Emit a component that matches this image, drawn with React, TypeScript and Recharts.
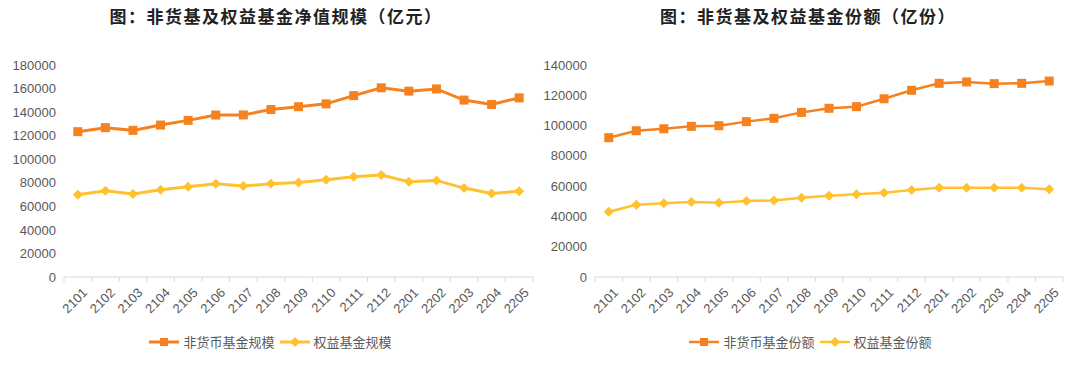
import React from "react";
import { Legend, Line, LineChart, XAxis, YAxis } from "recharts";

const months = [
  "2101", "2102", "2103", "2104", "2105", "2106", "2107", "2108", "2109",
  "2110", "2111", "2112", "2201", "2202", "2203", "2204", "2205",
];

// 净值规模（亿元）
const navNonMoney = [
  123400, 126800, 124500, 129000, 133000, 137500, 137600, 142200, 144600,
  147000, 154000, 160600, 157800, 159700, 150200, 146500, 152100,
];
const navEquity = [
  69900, 73300, 70400, 74100, 76600, 79200, 77200, 79200, 80300,
  82500, 85100, 86500, 80900, 82000, 75500, 71000, 72900,
];

// 份额（亿份）
const shareNonMoney = [
  92000, 96600, 97900, 99500, 99900, 102600, 104800, 108700, 111400,
  112500, 117700, 123300, 127900, 128800, 127700, 127900, 129400,
];
const shareEquity = [
  43100, 47700, 48700, 49500, 49100, 50200, 50600, 52400, 53700,
  54600, 55700, 57500, 59000, 59000, 59000, 59000, 57900,
];

const navTicks = [0, 20000, 40000, 60000, 80000, 100000, 120000, 140000, 160000, 180000];
const shareTicks = [0, 20000, 40000, 60000, 80000, 100000, 120000, 140000];

const ORANGE = "#F5821F";
const YELLOW = "#FFC12E";
const GRAY = "#595959";
const AXIS = "#D9D9D9";
const NUM_FONT = "'Liberation Sans', Arial, sans-serif";
const CJK_FONT = "'Noto Sans CJK SC', 'Noto Sans', sans-serif";

const navData = months.map((m, i) => ({ m, a: navNonMoney[i], b: navEquity[i] }));
const shareData = months.map((m, i) => ({ m, a: shareNonMoney[i], b: shareEquity[i] }));

const squareDot = (size: number) => (p: any) =>
  p.cx == null ? null : (
    <rect
      key={p.index}
      x={p.cx - size / 2}
      y={p.cy - size / 2}
      width={size}
      height={size}
      fill={ORANGE}
    />
  );

const diamondDot = (r: number) => (p: any) =>
  p.cx == null ? null : (
    <path
      key={p.index}
      d={`M${p.cx},${p.cy - r} L${p.cx + r},${p.cy} L${p.cx},${p.cy + r} L${p.cx - r},${p.cy} Z`}
      fill={YELLOW}
    />
  );

const makeTick = (half: number, count: number) => (props: any) => {
  const { x, y, payload, index } = props;
  const axisY = y - 8;
  return (
    <g>
      <line x1={x - half} x2={x - half} y1={axisY} y2={axisY + 5} stroke={AXIS} />
      {index === count - 1 && (
        <line x1={x + half} x2={x + half} y1={axisY} y2={axisY + 5} stroke={AXIS} />
      )}
      <text
        x={x + 4}
        y={y + 2}
        transform={`rotate(-45 ${x + 4} ${y + 2})`}
        textAnchor="end"
        dy="0.7em"
        fill={GRAY}
        fontSize={13}
        fontFamily={NUM_FONT}
      >
        {payload.value}
      </text>
    </g>
  );
};

const legendContent = (names: string[], strokeWidth: number) => () => (
  <div
    style={{
      display: "flex",
      justifyContent: "center",
      alignItems: "center",
      fontFamily: CJK_FONT,
      fontSize: 13,
      color: GRAY,
    }}
  >
    <span style={{ display: "flex", alignItems: "center", marginRight: 4 }}>
      <svg width={32} height={12}>
        <line x1={1} x2={31} y1={6} y2={6} stroke={ORANGE} strokeWidth={strokeWidth} />
        <rect x={12} y={2} width={8} height={8} fill={ORANGE} />
      </svg>
      <span style={{ marginLeft: 3 }}>{names[0]}</span>
    </span>
    <span style={{ display: "flex", alignItems: "center" }}>
      <svg width={32} height={12}>
        <line x1={1} x2={31} y1={6} y2={6} stroke={YELLOW} strokeWidth={strokeWidth} />
        <path d="M16,1 L21,6 L16,11 L11,6 Z" fill={YELLOW} />
      </svg>
      <span style={{ marginLeft: 3 }}>{names[1]}</span>
    </span>
  </div>
);

type PanelProps = {
  left: number;
  title: string;
  data: { m: string; a: number; b: number }[];
  ticks: number[];
  names: string[];
  yWidth: number;
  rightMargin: number;
  strokeWidth: number;
  titleShift: number;
};

function Panel({ left, title, data, ticks, names, yWidth, rightMargin, strokeWidth, titleShift }: PanelProps) {
  const plotWidth = 540 - yWidth - rightMargin;
  const half = plotWidth / data.length / 2;
  return (
    <div style={{ position: "absolute", left, top: 0, width: 540, height: 366 }}>
      <div
        style={{
          position: "absolute",
          top: 3,
          left: titleShift,
          width: 540,
          textAlign: "center",
          fontFamily: CJK_FONT,
          fontWeight: 700,
          fontSize: 17,
          letterSpacing: 1.5,
          color: "#222",
        }}
      >
        {title}
      </div>
      <LineChart
        width={540}
        height={366}
        data={data}
        margin={{ top: 65, right: rightMargin, bottom: 39, left: 0 }}
      >
        <XAxis
          dataKey="m"
          interval={0}
          tickLine={false}
          axisLine={{ stroke: AXIS }}
          tick={makeTick(half, data.length)}
          padding={{ left: half, right: half }}
          height={50}
        />
        <YAxis
          width={yWidth}
          domain={[0, ticks[ticks.length - 1]]}
          ticks={ticks}
          interval={0}
          axisLine={false}
          tickLine={false}
          tick={{ fill: GRAY, fontSize: 13, fontFamily: NUM_FONT }}
        />
        <Legend
          verticalAlign="middle"
          layout="horizontal"
          content={legendContent(names, strokeWidth)}
          wrapperStyle={{ top: 332, left: 0, width: 540 }}
        />
        <Line
          dataKey="a"
          name={names[0]}
          stroke={ORANGE}
          strokeWidth={strokeWidth}
          dot={squareDot(9)}
          isAnimationActive={false}
        />
        <Line
          dataKey="b"
          name={names[1]}
          stroke={YELLOW}
          strokeWidth={strokeWidth}
          dot={diamondDot(5)}
          isAnimationActive={false}
        />
      </LineChart>
    </div>
  );
}

export default function App() {
  return (
    <div style={{ position: "absolute", left: 0, top: 0, width: 1080, height: 366, background: "#fff" }}>
      <Panel
        left={0}
        title="图：非货基及权益基金净值规模（亿元）"
        data={navData}
        ticks={navTicks}
        names={["非货币基金规模", "权益基金规模"]}
        yWidth={64}
        rightMargin={7}
        strokeWidth={3}
        titleShift={6}
      />
      <Panel
        left={540}
        title="图：非货基及权益基金份额（亿份）"
        data={shareData}
        ticks={shareTicks}
        names={["非货币基金份额", "权益基金份额"]}
        yWidth={55}
        rightMargin={17}
        strokeWidth={2.5}
        titleShift={-2}
      />
    </div>
  );
}
